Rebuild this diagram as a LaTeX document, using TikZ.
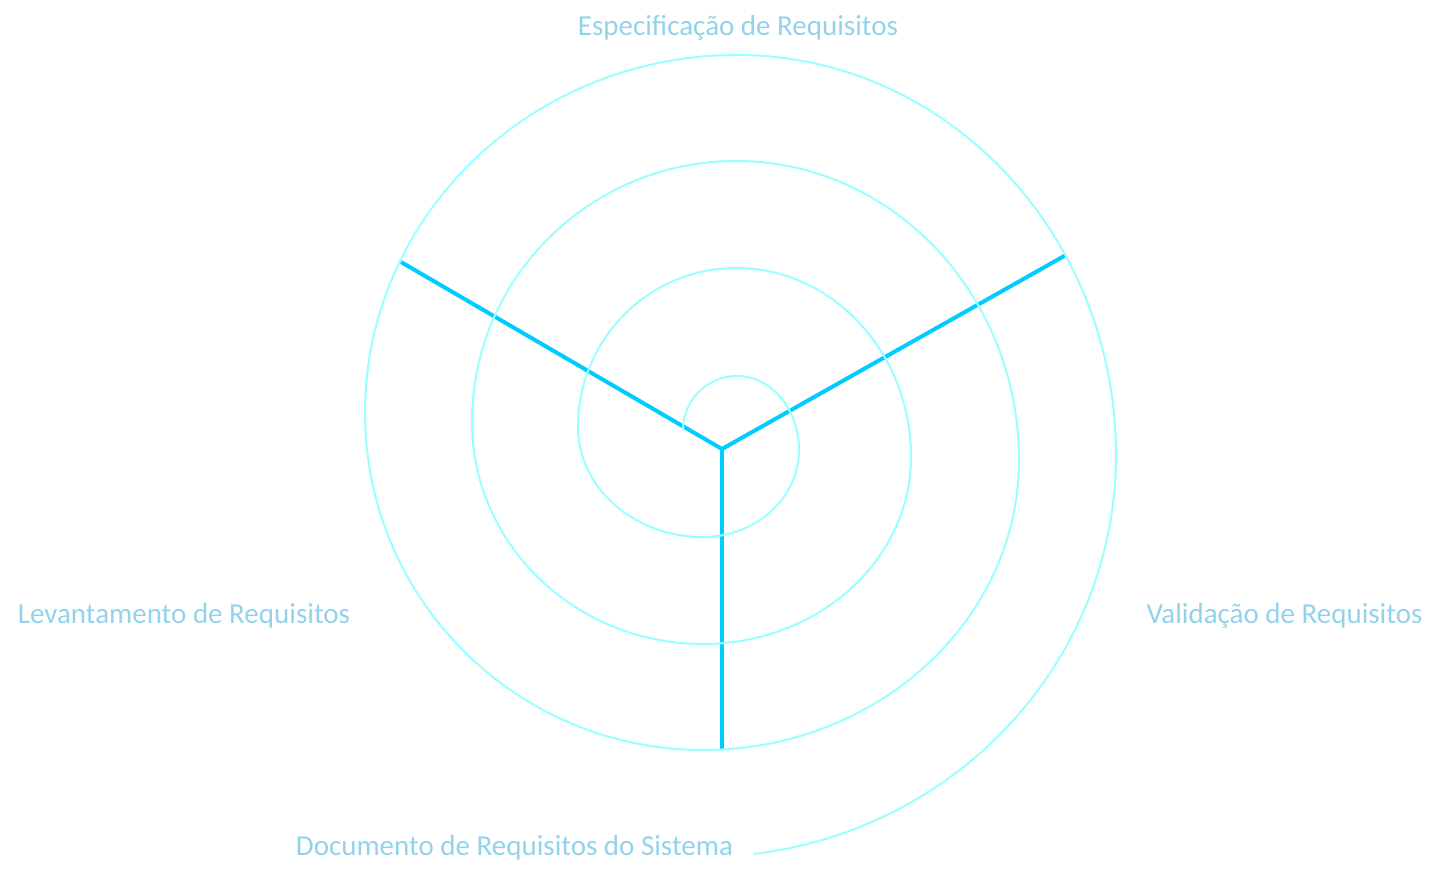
\documentclass[tikz,border=0pt]{standalone}
\usepackage{fontspec}
\setmainfont{Carlito}

\definecolor{ringcyan}{RGB}{153,255,255}
\definecolor{spokeblue}{RGB}{0,204,255}
\definecolor{labelblue}{RGB}{146,211,235}

\begin{document}
\begin{tikzpicture}[
  x=1pt, y=-1pt,
  stage/.style={
    font=\fontsize{29}{35}\selectfont, text=labelblue,
    anchor=base, inner sep=0pt,
  },
  spoke/.style={draw=spokeblue, line width=4pt},
  ring/.style={draw=ringcyan, line width=2pt},
]
\useasboundingbox (0,0) rectangle (1455,881);

\coordinate (hub) at (722,449);
\coordinate (armL) at (401,262);
\coordinate (armR) at (1066,255);
\coordinate (armB) at (722,750);

\draw[spoke] (hub) -- (armL);
\draw[spoke] (hub) -- (armR);
\draw[spoke] (hub) -- (armB);

% spiral, one quarter turn per arc
\draw[ring] (683,430)
  arc[start angle=180, end angle=90,  x radius=54pt,  y radius=54pt]
  arc[start angle=90,  end angle=0,   x radius=62pt,  y radius=74pt]
  arc[start angle=0,   end angle=-90, x radius=96pt,  y radius=87pt]
  arc[start angle=-90, end angle=-180,x radius=125pt, y radius=110pt]
  arc[start angle=180, end angle=90,  x radius=158pt, y radius=159pt]
  arc[start angle=90,  end angle=0,   x radius=175pt, y radius=189pt]
  arc[start angle=0,   end angle=-90, x radius=208pt, y radius=187pt]
  arc[start angle=-90, end angle=-180,x radius=231pt, y radius=222pt]
  arc[start angle=180, end angle=90,  x radius=264pt, y radius=261pt]
  arc[start angle=90,  end angle=0,   x radius=283pt, y radius=299pt]
  arc[start angle=0,   end angle=-90, x radius=316pt, y radius=290pt]
  arc[start angle=-90, end angle=-180,x radius=338pt, y radius=337pt]
  arc[start angle=180, end angle=90,  x radius=372pt, y radius=358pt]
  arc[start angle=90,  end angle=0,   x radius=379pt, y radius=400pt]
  arc[start angle=0,   end angle=-83, x radius=413pt, y radius=402pt];

\node[stage] (spec) at (738,35) {Especificação de Requisitos};
\node[stage] (valid) at (1284.5,623) {Validação de Requisitos};
\node[stage] (lev) at (184,623) {Levantamento de Requisitos};
\node[stage] (doc) at (514.5,855) {Documento de Requisitos do Sistema};

\end{tikzpicture}
\end{document}
